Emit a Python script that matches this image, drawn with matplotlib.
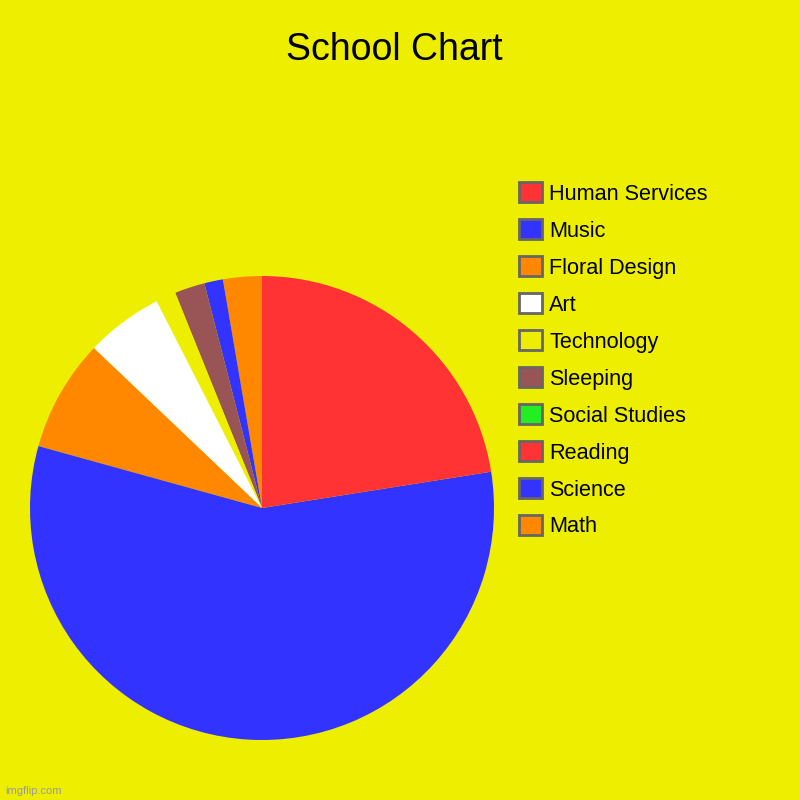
import matplotlib.pyplot as plt
from matplotlib.patches import Patch

plt.rcParams["font.family"] = ["Liberation Sans", "DejaVu Sans"]

# data in drawing order (counter-clockwise from the top), legend shows it reversed
subjects = ["Math", "Science", "Reading", "Social Studies", "Sleeping",
            "Technology", "Art", "Floral Design", "Music", "Human Services"]
shares = [2.7, 1.3, 0.0, 0.0, 2.1, 1.4, 5.4, 7.8, 56.8, 22.5]
colors = ["#FF8800", "#3333FF", "#FF3333", "#22EE22", "#995555",
          "#EEEE00", "#FFFFFF", "#FF8800", "#3333FF", "#FF3333"]

bg = "#EEEE00"

fig = plt.figure(figsize=(8, 8), dpi=100, facecolor=bg)
ax = fig.add_axes([0.0375, 0.075, 0.58, 0.58])
ax.set_facecolor(bg)

ax.pie(shares, colors=colors, startangle=90, counterclock=True,
       wedgeprops={"linewidth": 0})
ax.set_xlim(-1, 1)
ax.set_ylim(-1, 1)
ax.set_aspect("equal")
ax.axis("off")

fig.text(0.4925, 0.9375, "School Chart", ha="center", va="center", fontsize=27)

handles = [Patch(facecolor=c, edgecolor="#666666", linewidth=2) for c in colors]
leg = fig.legend(handles[::-1], subjects[::-1], loc="upper left",
                 bbox_to_anchor=(0.649, 0.772), frameon=False, fontsize=15.6,
                 handlelength=1.05, handleheight=1.05, handletextpad=0.33,
                 labelspacing=0.67, borderpad=0, borderaxespad=0)

fig.text(0.006, 0.011, "imgflip.com", fontsize=8, color="#999999",
         ha="left", va="center")

fig.savefig("out.png", dpi=100, facecolor=bg)
